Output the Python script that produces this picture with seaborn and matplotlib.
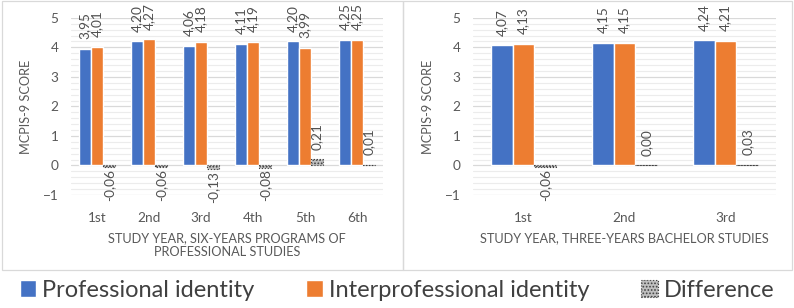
import numpy as np
import pandas as pd
import matplotlib
matplotlib.use('Agg')
import matplotlib.pyplot as plt
from matplotlib.patches import Patch, Rectangle
from matplotlib.ticker import MultipleLocator
import seaborn as sns

# Data
years_six = ['1st', '2nd', '3rd', '4th', '5th', '6th']
prof_six = [3.95, 4.20, 4.06, 4.11, 4.20, 4.25]
inter_six = [4.01, 4.27, 4.18, 4.19, 3.99, 4.25]
diff_six = [-0.06, -0.06, -0.13, -0.08, 0.21, 0.01]

years_three = ['1st', '2nd', '3rd']
prof_three = [4.07, 4.15, 4.24]
inter_three = [4.13, 4.15, 4.21]
diff_three = [-0.06, 0.00, 0.03]

series = ['Professional identity', 'Interprofessional identity', 'Difference']
colors = ['#4472c4', '#ed7d31', '#bfbfbf']

sns.set_theme(style='white')
plt.rcParams['font.family'] = ['Lato', 'DejaVu Sans']
plt.rcParams['hatch.color'] = '#404040'
plt.rcParams['hatch.linewidth'] = 0.8


def long_df(years, prof, inter, diff):
    return pd.DataFrame({
        'year': years * 3,
        'value': prof + inter + diff,
        'series': [series[0]] * len(years) + [series[1]] * len(years) + [series[2]] * len(years),
    })


def draw_panel(ax, df, width, xlabel):
    sns.barplot(data=df, x='year', y='value', hue='series', palette=colors,
                width=width, ax=ax, legend=False, saturation=1)
    ax.set_ylim(-1, 5)
    ax.set_xlim(-0.5, df['year'].nunique() - 0.5)
    ax.yaxis.set_major_locator(MultipleLocator(1))
    ax.yaxis.set_minor_locator(MultipleLocator(0.2))
    ax.grid(axis='y', which='major', color='#d9d9d9', linewidth=0.9)
    ax.grid(axis='y', which='minor', color='#ececec', linewidth=0.8)
    ax.set_axisbelow(True)
    for s in ax.spines.values():
        s.set_visible(False)
    ax.tick_params(axis='both', which='both', length=0, labelsize=9.8, colors='#595959')
    ax.tick_params(axis='x', pad=12)
    ax.tick_params(axis='y', pad=9)
    ax.set_xlabel(xlabel, fontsize=9.2, color='#595959', labelpad=6)
    ax.set_ylabel('MCPIS-9 SCORE', fontsize=9.2, color='#595959', labelpad=8)

    # difference bars: dotted pattern with dotted outline
    for p in ax.containers[2]:
        p.set_hatch('.....')
        p.set_edgecolor('#404040')
        p.set_linestyle(':')
        p.set_linewidth(0.8)

    for cont in ax.containers:
        for p in cont:
            v = p.get_height()
            xc = p.get_x() + p.get_width() / 2
            txt = f'{v:.2f}'.replace('.', ',')
            if v >= 0:
                ax.annotate(txt, (xc, v), xytext=(0, 7), textcoords='offset points',
                            rotation=90, ha='center', va='bottom', fontsize=9.8, color='#505050')
            else:
                ax.annotate(txt, (xc, v), xytext=(0, -1), textcoords='offset points',
                            rotation=90, ha='center', va='top', fontsize=9.8, color='#505050')


fig = plt.figure(figsize=(7.94, 3.08), dpi=100)
ax1 = fig.add_axes([0.0894, 0.367, 0.393, 0.575])
ax2 = fig.add_axes([0.5957, 0.367, 0.3816, 0.575])

draw_panel(ax1, long_df(years_six, prof_six, inter_six, diff_six), 0.7,
           'STUDY YEAR, SIX-YEARS PROGRAMS OF\nPROFESSIONAL STUDIES')
draw_panel(ax2, long_df(years_three, prof_three, inter_three, diff_three), 0.65,
           'STUDY YEAR, THREE-YEARS BACHELOR STUDIES')

# panel frames
fig.patches.append(Rectangle((0.002, 0.125), 0.505, 0.872, transform=fig.transFigure,
                             fill=False, edgecolor='#d9d9d9', linewidth=0.9))
fig.patches.append(Rectangle((0.507, 0.125), 0.491, 0.872, transform=fig.transFigure,
                             fill=False, edgecolor='#d9d9d9', linewidth=0.9))

handles = [Patch(facecolor=colors[0]), Patch(facecolor=colors[1]),
           Patch(facecolor=colors[2], hatch='.....', edgecolor='#404040', linestyle=':', linewidth=0.8)]
fig.legend(handles, series, loc='center', bbox_to_anchor=(0.5, 0.058), ncol=3, frameon=False,
           fontsize=17, handlelength=0.7, handleheight=0.7, handletextpad=0.25,
           columnspacing=2.2, labelcolor='#404040')

fig.savefig('out.png', dpi=100)
